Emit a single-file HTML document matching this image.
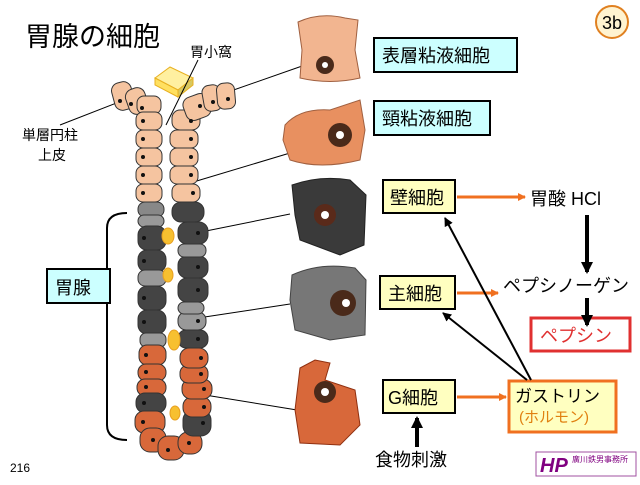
<!DOCTYPE html>
<html><head><meta charset="utf-8"><style>
body{margin:0;background:#fff;width:640px;height:480px;overflow:hidden;font-family:"Liberation Sans","Noto Sans CJK JP",sans-serif;}
</style></head><body>
<svg width="640" height="480" xmlns="http://www.w3.org/2000/svg" font-family="Liberation Sans, Noto Sans CJK JP, sans-serif">
<defs>
<marker id="ao" markerWidth="8" markerHeight="8" refX="7" refY="4" orient="auto" markerUnits="userSpaceOnUse"><path d="M0,0 L8,4 L0,8 z" fill="#f07020"/></marker>
<marker id="ab" markerWidth="12" markerHeight="12" refX="10" refY="6" orient="auto" markerUnits="userSpaceOnUse"><path d="M0,0 L12,6 L0,12 z" fill="#000"/></marker>
<marker id="as" markerWidth="9" markerHeight="9" refX="8" refY="4.5" orient="auto" markerUnits="userSpaceOnUse"><path d="M0,0 L9,4.5 L0,9 z" fill="#000"/></marker>
</defs>
<text x="25" y="46" font-size="27" fill="#000">胃腺の細胞</text>
<circle cx="612" cy="22" r="16" fill="#fff3d0" stroke="#e08020" stroke-width="2"/>
<text x="612" y="29" font-size="18" text-anchor="middle">3b</text>
<text x="190" y="57" font-size="14">胃小窩</text>
<text x="22" y="140" font-size="14">単層円柱</text>
<text x="38" y="160" font-size="14">上皮</text>
<text x="10" y="472" font-size="12">216</text>
<!-- pit cube -->
<path d="M155,78 L170,67 L193,78 L178,90 z" fill="#fff0a0" stroke="#e8b020"/>
<path d="M155,78 L178,90 L178,97 L155,85 z" fill="#ffe060" stroke="#e8b020"/>
<path d="M178,90 L193,78 L193,85 L178,97 z" fill="#d8c860" stroke="#e8b020"/>
<g stroke="#000" stroke-width="1">
<line x1="198" y1="60" x2="166" y2="125"/>
<line x1="60" y1="125" x2="137" y2="95"/>
<line x1="305" y1="65" x2="205" y2="100"/>
<line x1="290" y1="153" x2="190" y2="183"/>
<line x1="290" y1="214" x2="196" y2="233"/>
<line x1="290" y1="304" x2="198" y2="318"/>
<line x1="297" y1="410" x2="205" y2="395"/>
</g>
<!-- cells -->
<g stroke="#333" stroke-width="1">
<rect x="113" y="82" width="20" height="28" rx="8" fill="#f5c4a0" transform="rotate(-15 123 96)"/>
<rect x="127" y="88" width="20" height="26" rx="8" fill="#f5c4a0" transform="rotate(-20 137 101)"/>
<rect x="137" y="96" width="24" height="18" rx="7" fill="#f5c4a0"/>
<rect x="136" y="112" width="26" height="18" rx="7" fill="#f5c4a0"/>
<rect x="136" y="130" width="26" height="18" rx="7" fill="#f5c4a0"/>
<rect x="136" y="148" width="26" height="18" rx="7" fill="#f5c4a0"/>
<rect x="136" y="166" width="26" height="18" rx="7" fill="#f5c4a0"/>
<rect x="136" y="184" width="26" height="18" rx="7" fill="#f5c4a0"/>
<rect x="138" y="202" width="26" height="15" rx="7" fill="#888"/>
<rect x="138" y="215" width="26" height="12" rx="6" fill="#999"/>
<rect x="138" y="226" width="28" height="24" rx="9" fill="#444"/>
<rect x="138" y="250" width="28" height="22" rx="9" fill="#444"/>
<rect x="138" y="270" width="28" height="16" rx="7" fill="#999"/>
<rect x="138" y="286" width="28" height="24" rx="9" fill="#444"/>
<rect x="138" y="310" width="28" height="24" rx="9" fill="#444"/>
<rect x="140" y="333" width="26" height="14" rx="6" fill="#999"/>
<rect x="139" y="345" width="27" height="20" rx="8" fill="#d8683a"/>
<rect x="138" y="364" width="28" height="17" rx="8" fill="#d8683a"/>
<rect x="137" y="379" width="29" height="17" rx="8" fill="#d8683a"/>
<rect x="136" y="393" width="30" height="20" rx="9" fill="#444"/>
<rect x="135" y="411" width="30" height="22" rx="9" fill="#d8683a"/>
<rect x="140" y="428" width="26" height="24" rx="10" fill="#d8683a"/>
<rect x="158" y="436" width="26" height="24" rx="10" fill="#d8683a"/>
<rect x="178" y="432" width="24" height="22" rx="10" fill="#d8683a"/>
<rect x="183" y="410" width="28" height="26" rx="10" fill="#444"/>
<rect x="183" y="397" width="28" height="20" rx="9" fill="#d8683a"/>
<rect x="182" y="379" width="30" height="20" rx="9" fill="#d8683a"/>
<rect x="180" y="365" width="28" height="18" rx="8" fill="#d8683a"/>
<rect x="180" y="348" width="28" height="20" rx="9" fill="#d8683a"/>
<rect x="178" y="330" width="30" height="18" rx="8" fill="#444"/>
<rect x="178" y="312" width="28" height="18" rx="8" fill="#999"/>
<rect x="178" y="302" width="26" height="12" rx="6" fill="#999"/>
<rect x="178" y="278" width="30" height="24" rx="9" fill="#444"/>
<rect x="178" y="256" width="30" height="22" rx="9" fill="#444"/>
<rect x="178" y="244" width="28" height="13" rx="6" fill="#999"/>
<rect x="178" y="222" width="30" height="22" rx="9" fill="#444"/>
<rect x="172" y="202" width="32" height="20" rx="9" fill="#444"/>
<rect x="172" y="184" width="28" height="18" rx="7" fill="#f5c4a0"/>
<rect x="170" y="166" width="28" height="18" rx="7" fill="#f5c4a0"/>
<rect x="170" y="148" width="28" height="18" rx="7" fill="#f5c4a0"/>
<rect x="170" y="130" width="28" height="18" rx="7" fill="#f5c4a0"/>
<rect x="172" y="110" width="28" height="20" rx="8" fill="#f5c4a0"/>
<rect x="184" y="95" width="26" height="24" rx="8" fill="#f5c4a0" transform="rotate(-20 197 107)"/>
<rect x="203" y="85" width="18" height="26" rx="7" fill="#f5c4a0" transform="rotate(-10 212 98)"/>
<rect x="217" y="83" width="18" height="26" rx="7" fill="#f5c4a0" transform="rotate(-5 226 96)"/>
</g>
<g fill="#111">
<circle cx="120" cy="101" r="2"/><circle cx="131" cy="104" r="2"/><circle cx="142" cy="108" r="2"/>
<circle cx="143" cy="121" r="2"/><circle cx="143" cy="139" r="2"/><circle cx="143" cy="157" r="2"/><circle cx="143" cy="175" r="2"/><circle cx="143" cy="193" r="2"/>
<circle cx="144" cy="238" r="2"/><circle cx="144" cy="261" r="2"/><circle cx="144" cy="298" r="2"/><circle cx="144" cy="322" r="2"/>
<circle cx="146" cy="355" r="2"/><circle cx="146" cy="372" r="2"/><circle cx="146" cy="387" r="2"/><circle cx="144" cy="403" r="2"/><circle cx="143" cy="422" r="2"/>
<circle cx="153" cy="440" r="2"/><circle cx="168" cy="450" r="2"/><circle cx="189" cy="443" r="2"/>
<circle cx="191" cy="121" r="2"/><circle cx="191" cy="139" r="2"/><circle cx="191" cy="157" r="2"/><circle cx="191" cy="175" r="2"/><circle cx="193" cy="193" r="2"/>
<circle cx="200" cy="106" r="2"/><circle cx="213" cy="102" r="2"/><circle cx="228" cy="99" r="2"/>
<circle cx="198" cy="233" r="2"/><circle cx="198" cy="267" r="2"/><circle cx="198" cy="290" r="2"/><circle cx="198" cy="321" r="2"/><circle cx="198" cy="339" r="2"/>
<circle cx="201" cy="358" r="2"/><circle cx="201" cy="374" r="2"/><circle cx="204" cy="389" r="2"/><circle cx="204" cy="407" r="2"/><circle cx="203" cy="423" r="2"/>
</g>
<g fill="#f7c030" stroke="#e8a020">
<ellipse cx="168" cy="236" rx="6" ry="8"/><ellipse cx="168" cy="275" rx="5" ry="7"/><ellipse cx="174" cy="340" rx="6" ry="10"/><ellipse cx="175" cy="413" rx="5" ry="7"/>
</g>
<!-- bracket -->
<path d="M127,213 Q107,213 107,228 L107,425 Q107,440 127,440" fill="none" stroke="#000" stroke-width="2"/>
<rect x="47" y="269" width="63" height="34" fill="#ccffff" stroke="#000" stroke-width="2"/>
<text x="55" y="294" font-size="18">胃腺</text>
<!-- detailed cells -->
<path d="M298,22 Q320,12 345,18 L358,20 L355,50 L360,78 Q330,85 300,78 L302,50 z" fill="#f2b590" stroke="#a06040"/>
<circle cx="325" cy="65" r="9" fill="#4a2a1a"/><circle cx="325" cy="65" r="3" fill="#fff"/>
<path d="M285,125 Q300,108 330,110 L360,100 L365,130 L360,160 Q320,170 290,160 L283,140 z" fill="#e89060" stroke="#a06040"/>
<circle cx="340" cy="135" r="12" fill="#4a2a1a"/><circle cx="340" cy="135" r="4" fill="#fff"/>
<path d="M292,185 Q320,175 350,180 L366,195 L364,245 L340,255 L300,240 L295,215 z" fill="#3a3a3a" stroke="#222"/>
<circle cx="325" cy="215" r="11" fill="#5a2a1a"/><circle cx="325" cy="215" r="4" fill="#fff"/>
<path d="M292,275 Q320,262 355,268 L366,280 L365,335 L330,340 L295,330 L290,300 z" fill="#777" stroke="#444"/>
<circle cx="343" cy="303" r="13" fill="#4a2a1a"/><circle cx="346" cy="303" r="4" fill="#fff"/>
<path d="M300,368 L315,360 L330,363 L325,380 L355,390 L360,425 L340,445 L300,443 L295,410 z" fill="#d8683a" stroke="#903010"/>
<circle cx="325" cy="392" r="11" fill="#4a2a1a"/><circle cx="325" cy="392" r="4" fill="#fff"/>
<!-- boxes -->
<rect x="374" y="38" width="143" height="34" fill="#ccffff" stroke="#000" stroke-width="2"/>
<text x="382" y="62" font-size="18">表層粘液細胞</text>
<rect x="374" y="101" width="116" height="34" fill="#ccffff" stroke="#000" stroke-width="2"/>
<text x="382" y="125" font-size="18">頸粘液細胞</text>
<rect x="383" y="180" width="72" height="33" fill="#ffffc0" stroke="#000" stroke-width="2"/>
<text x="390" y="204" font-size="18">壁細胞</text>
<rect x="380" y="276" width="75" height="33" fill="#ffffc0" stroke="#000" stroke-width="2"/>
<text x="388" y="300" font-size="18">主細胞</text>
<rect x="383" y="380" width="72" height="33" fill="#ffffc0" stroke="#000" stroke-width="2"/>
<text x="388" y="404" font-size="18">G細胞</text>
<rect x="509" y="381" width="107" height="51" fill="#ffffc0" stroke="#f07020" stroke-width="3"/>
<text x="515" y="402" font-size="17">ガストリン</text>
<text x="519" y="422" font-size="15" fill="#e08010">(ホルモン)</text>
<rect x="531" y="318" width="99" height="33" fill="#fff" stroke="#e03030" stroke-width="3"/>
<text x="540" y="342" font-size="18" fill="#e03030">ペプシン</text>
<text x="530" y="205" font-size="18">胃酸 HCl</text>
<text x="503" y="292" font-size="18">ペプシノーゲン</text>
<text x="375" y="466" font-size="18">食物刺激</text>
<!-- arrows -->
<g stroke="#f07020" stroke-width="3">
<line x1="457" y1="197" x2="525" y2="197" marker-end="url(#ao)"/>
<line x1="457" y1="293" x2="498" y2="293" marker-end="url(#ao)"/>
<line x1="457" y1="397" x2="506" y2="397" marker-end="url(#ao)"/>
</g>
<g stroke="#000" stroke-width="4">
<line x1="587" y1="215" x2="587" y2="272" marker-end="url(#ab)"/>
<line x1="587" y1="298" x2="587" y2="325" marker-end="url(#ab)"/>
<line x1="417" y1="447" x2="417" y2="418" marker-end="url(#ab)"/>
</g>
<g stroke="#000" stroke-width="2">
<line x1="531" y1="380" x2="445" y2="218" marker-end="url(#as)"/>
<line x1="527" y1="380" x2="443" y2="313" marker-end="url(#as)"/>
</g>
<!-- logo -->
<rect x="536" y="452" width="100" height="24" fill="#fff" stroke="#a050a0"/>
<text x="540" y="472" font-size="20" font-weight="bold" font-style="italic" fill="#800080">HP</text>
<text x="572" y="462" font-size="8" fill="#800080">廣川鉄男事務所</text>
</svg>
</body></html>
